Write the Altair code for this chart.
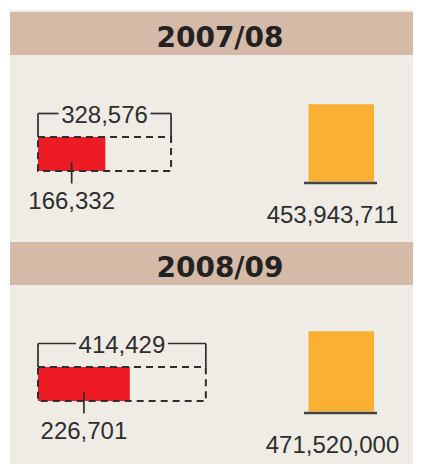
import altair as alt
import pandas as pd

# ---- data ----
years = ["2007/08", "2008/09"]
totals = [328576, 414429]
parts = [166332, 226701]
amounts = [453943711, 471520000]

# ---- styles ----
BG = "#efece6"
HEAD = "#d6baa8"
RED = "#ed1c24"
ORANGE = "#fbb034"
INK = "#2e2e2e"
LABEL_FONT = "Liberation Sans"
LABEL_SIZE = 24

W, H = 405, 230
PX_PER_UNIT = 4.05e-4
xscale = alt.Scale(domain=[0, 1000000], range=[30, 30 + 1000000 * PX_PER_UNIT])
yscale = alt.Scale(domain=[0, 1000000000], range=[173.5, 3.5])
GAP = 92 / PX_PER_UNIT  # gap in the bracket line around the total label (value units)


def panel(i, top_bg):
    df = pd.DataFrame({
        "year": [years[i]],
        "total": [totals[i]],
        "part": [parts[i]],
        "amount": [amounts[i]],
    })
    df["zero"] = 0
    df["mid"] = df["part"] / 2
    df["tmid"] = df["total"] / 2
    df["gl"] = df["tmid"] - GAP / 2
    df["gr"] = df["tmid"] + GAP / 2
    base = alt.Chart(df)
    X = lambda f: alt.X(f"{f}:Q", scale=xscale, axis=None)
    X2 = lambda f: alt.X2(f"{f}:Q")

    bg = base.mark_rect(color=BG).encode(
        x=alt.value(2), x2=alt.value(W), y=alt.value(top_bg), y2=alt.value(H))
    head = base.mark_rect(color=HEAD).encode(
        x=alt.value(2), x2=alt.value(W), y=alt.value(4), y2=alt.value(47))
    head_txt = base.mark_text(font="DejaVu Sans", fontWeight="bold", fontSize=28,
                              color="#222222", align="center", baseline="alphabetic").encode(
        x=alt.value(212), y=alt.value(38.5), text="year:N")

    red = base.mark_rect(color=RED).encode(
        x=X("zero"), x2=X2("part"), y=alt.value(129), y2=alt.value(163))
    box = base.mark_rect(fill=None, fillOpacity=0, stroke=INK, strokeWidth=2,
                         strokeDash=[7, 5]).encode(
        x=X("zero"), x2=X2("total"), y=alt.value(129), y2=alt.value(163))
    br_l = base.mark_rule(color=INK, strokeWidth=1.7).encode(
        x=X("zero"), x2=X2("gl"), y=alt.value(105.5))
    br_r = base.mark_rule(color=INK, strokeWidth=1.7).encode(
        x=X("gr"), x2=X2("total"), y=alt.value(105.5))
    br_v0 = base.mark_rule(color=INK, strokeWidth=1.7).encode(
        x=X("zero"), y=alt.value(105.5), y2=alt.value(129))
    br_v1 = base.mark_rule(color=INK, strokeWidth=1.7).encode(
        x=X("total"), y=alt.value(105.5), y2=alt.value(129))
    tot_txt = base.mark_text(font=LABEL_FONT, fontSize=LABEL_SIZE, color=INK, align="center",
                             baseline="alphabetic").encode(
        x=X("tmid"), y=alt.value(114.5), text=alt.Text("total:Q", format=","))
    tick = base.mark_rule(color=INK, strokeWidth=1.7).encode(
        x=X("mid"), y=alt.value(154), y2=alt.value(175.5))
    part_txt = base.mark_text(font=LABEL_FONT, fontSize=LABEL_SIZE, color=INK, align="center",
                              baseline="alphabetic").encode(
        x=X("mid"), y=alt.value(201), text=alt.Text("part:Q", format=","))

    obar = base.mark_rect(color=ORANGE).encode(
        x=alt.value(300.5), x2=alt.value(366),
        y=alt.Y("amount:Q", scale=yscale, axis=None), y2=alt.Y2("zero:Q"))
    oline = base.mark_rule(color="#444444", strokeWidth=2.5).encode(
        x=alt.value(296), x2=alt.value(369), y=alt.value(175))
    o_txt = base.mark_text(font=LABEL_FONT, fontSize=LABEL_SIZE, color=INK, align="center",
                           baseline="alphabetic").encode(
        x=alt.value(324.5), y=alt.value(214.5), text=alt.Text("amount:Q", format=","))

    return alt.layer(bg, head, head_txt, red, box, br_l, br_r, br_v0, br_v1,
                     tot_txt, tick, part_txt, obar, oline, o_txt).properties(
        width=W, height=H)


chart = alt.vconcat(panel(0, 2), panel(1, 0), spacing=0).resolve_scale(
    x="independent", y="independent").properties(
    padding=0, background="white").configure_view(stroke=None)

chart.save("out.html", embed_options={"renderer": "svg", "actions": False})
